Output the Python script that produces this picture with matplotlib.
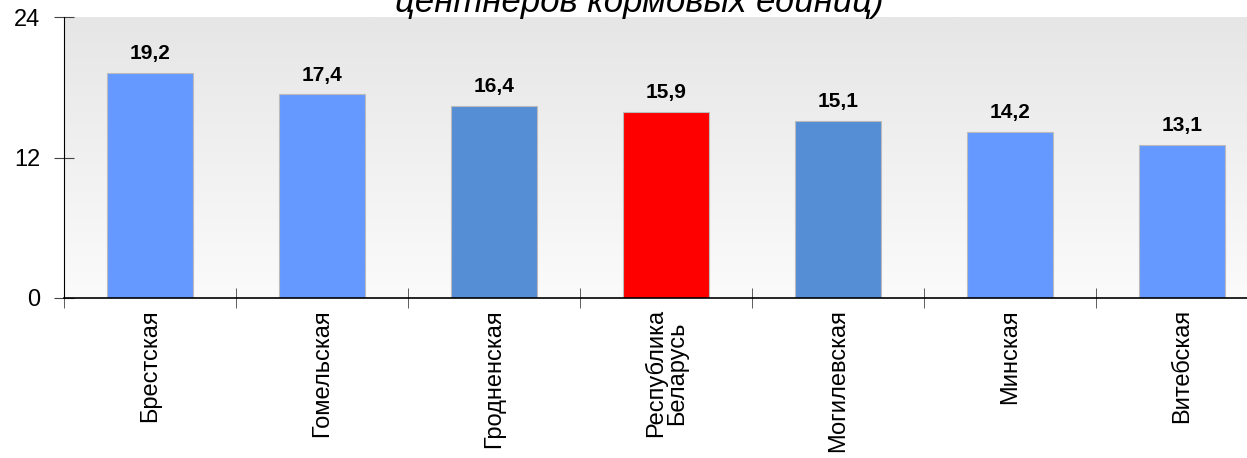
import matplotlib
matplotlib.use('Agg')
import matplotlib.pyplot as plt
import numpy as np

regions = ['Брестская', 'Гомельская', 'Гродненская', 'Республика\nБеларусь',
           'Могилевская', 'Минская', 'Витебская']
values = [19.2, 17.4, 16.4, 15.9, 15.1, 14.2, 13.1]
colors = ['#6699FF', '#6699FF', '#558ED5', '#FF0000', '#558ED5', '#6699FF', '#6699FF']
value_labels = ['19,2', '17,4', '16,4', '15,9', '15,1', '14,2', '13,1']

plt.rcParams['font.family'] = ['Liberation Sans', 'DejaVu Sans']

fig = plt.figure(figsize=(12.47, 4.58), dpi=100)
ax = fig.add_axes([64 / 1247, 160 / 458, 1204 / 1247, 281 / 458])

x = np.arange(len(regions))
ax.set_xlim(-0.5, len(regions) - 0.5)
ax.set_ylim(0, 24)

# background gradient, darker at the top
grad = np.linspace(0, 1, 256).reshape(-1, 1)
ax.imshow(grad, extent=[-0.5, len(regions) - 0.5, 0, 24], aspect='auto',
          cmap=matplotlib.colors.LinearSegmentedColormap.from_list('bg', ['#fbfbfb', '#e6e6e6']),
          origin='lower', zorder=0)

ax.bar(x, values, width=0.5, color=colors, edgecolor='#bbbbbb', linewidth=0.8, zorder=2)

for xi, v, lab in zip(x, values, value_labels):
    ax.annotate(lab, (xi, v), xytext=(0, 7), textcoords='offset points',
                ha='center', va='bottom', fontsize=15, fontweight='bold')

ax.set_yticks([0, 12, 24])
ax.set_yticklabels(['0', '12', '24'], fontsize=17)
ax.set_xticks(x)
ax.set_xticklabels(regions, rotation=90, fontsize=17, va='top', ha='center',
                   linespacing=0.95)
ax.tick_params(axis='x', length=0, pad=8)
ax.set_xticks(np.arange(-0.5, len(regions), 1), minor=True)
ax.tick_params(axis='x', which='minor', direction='inout', length=14, color='#444444')
ax.tick_params(axis='y', direction='inout', length=14, color='#444444', pad=10)

for s in ['top', 'right']:
    ax.spines[s].set_visible(False)
ax.spines['left'].set_color('black')
ax.spines['bottom'].set_color('black')
ax.spines['bottom'].set_linewidth(1.2)

fig.text(0.513, 1 - 12 / 458, 'центнеров кормовых единиц)', ha='center', va='baseline',
         fontsize=25, style='italic')

fig.savefig('out.png', dpi=100)
